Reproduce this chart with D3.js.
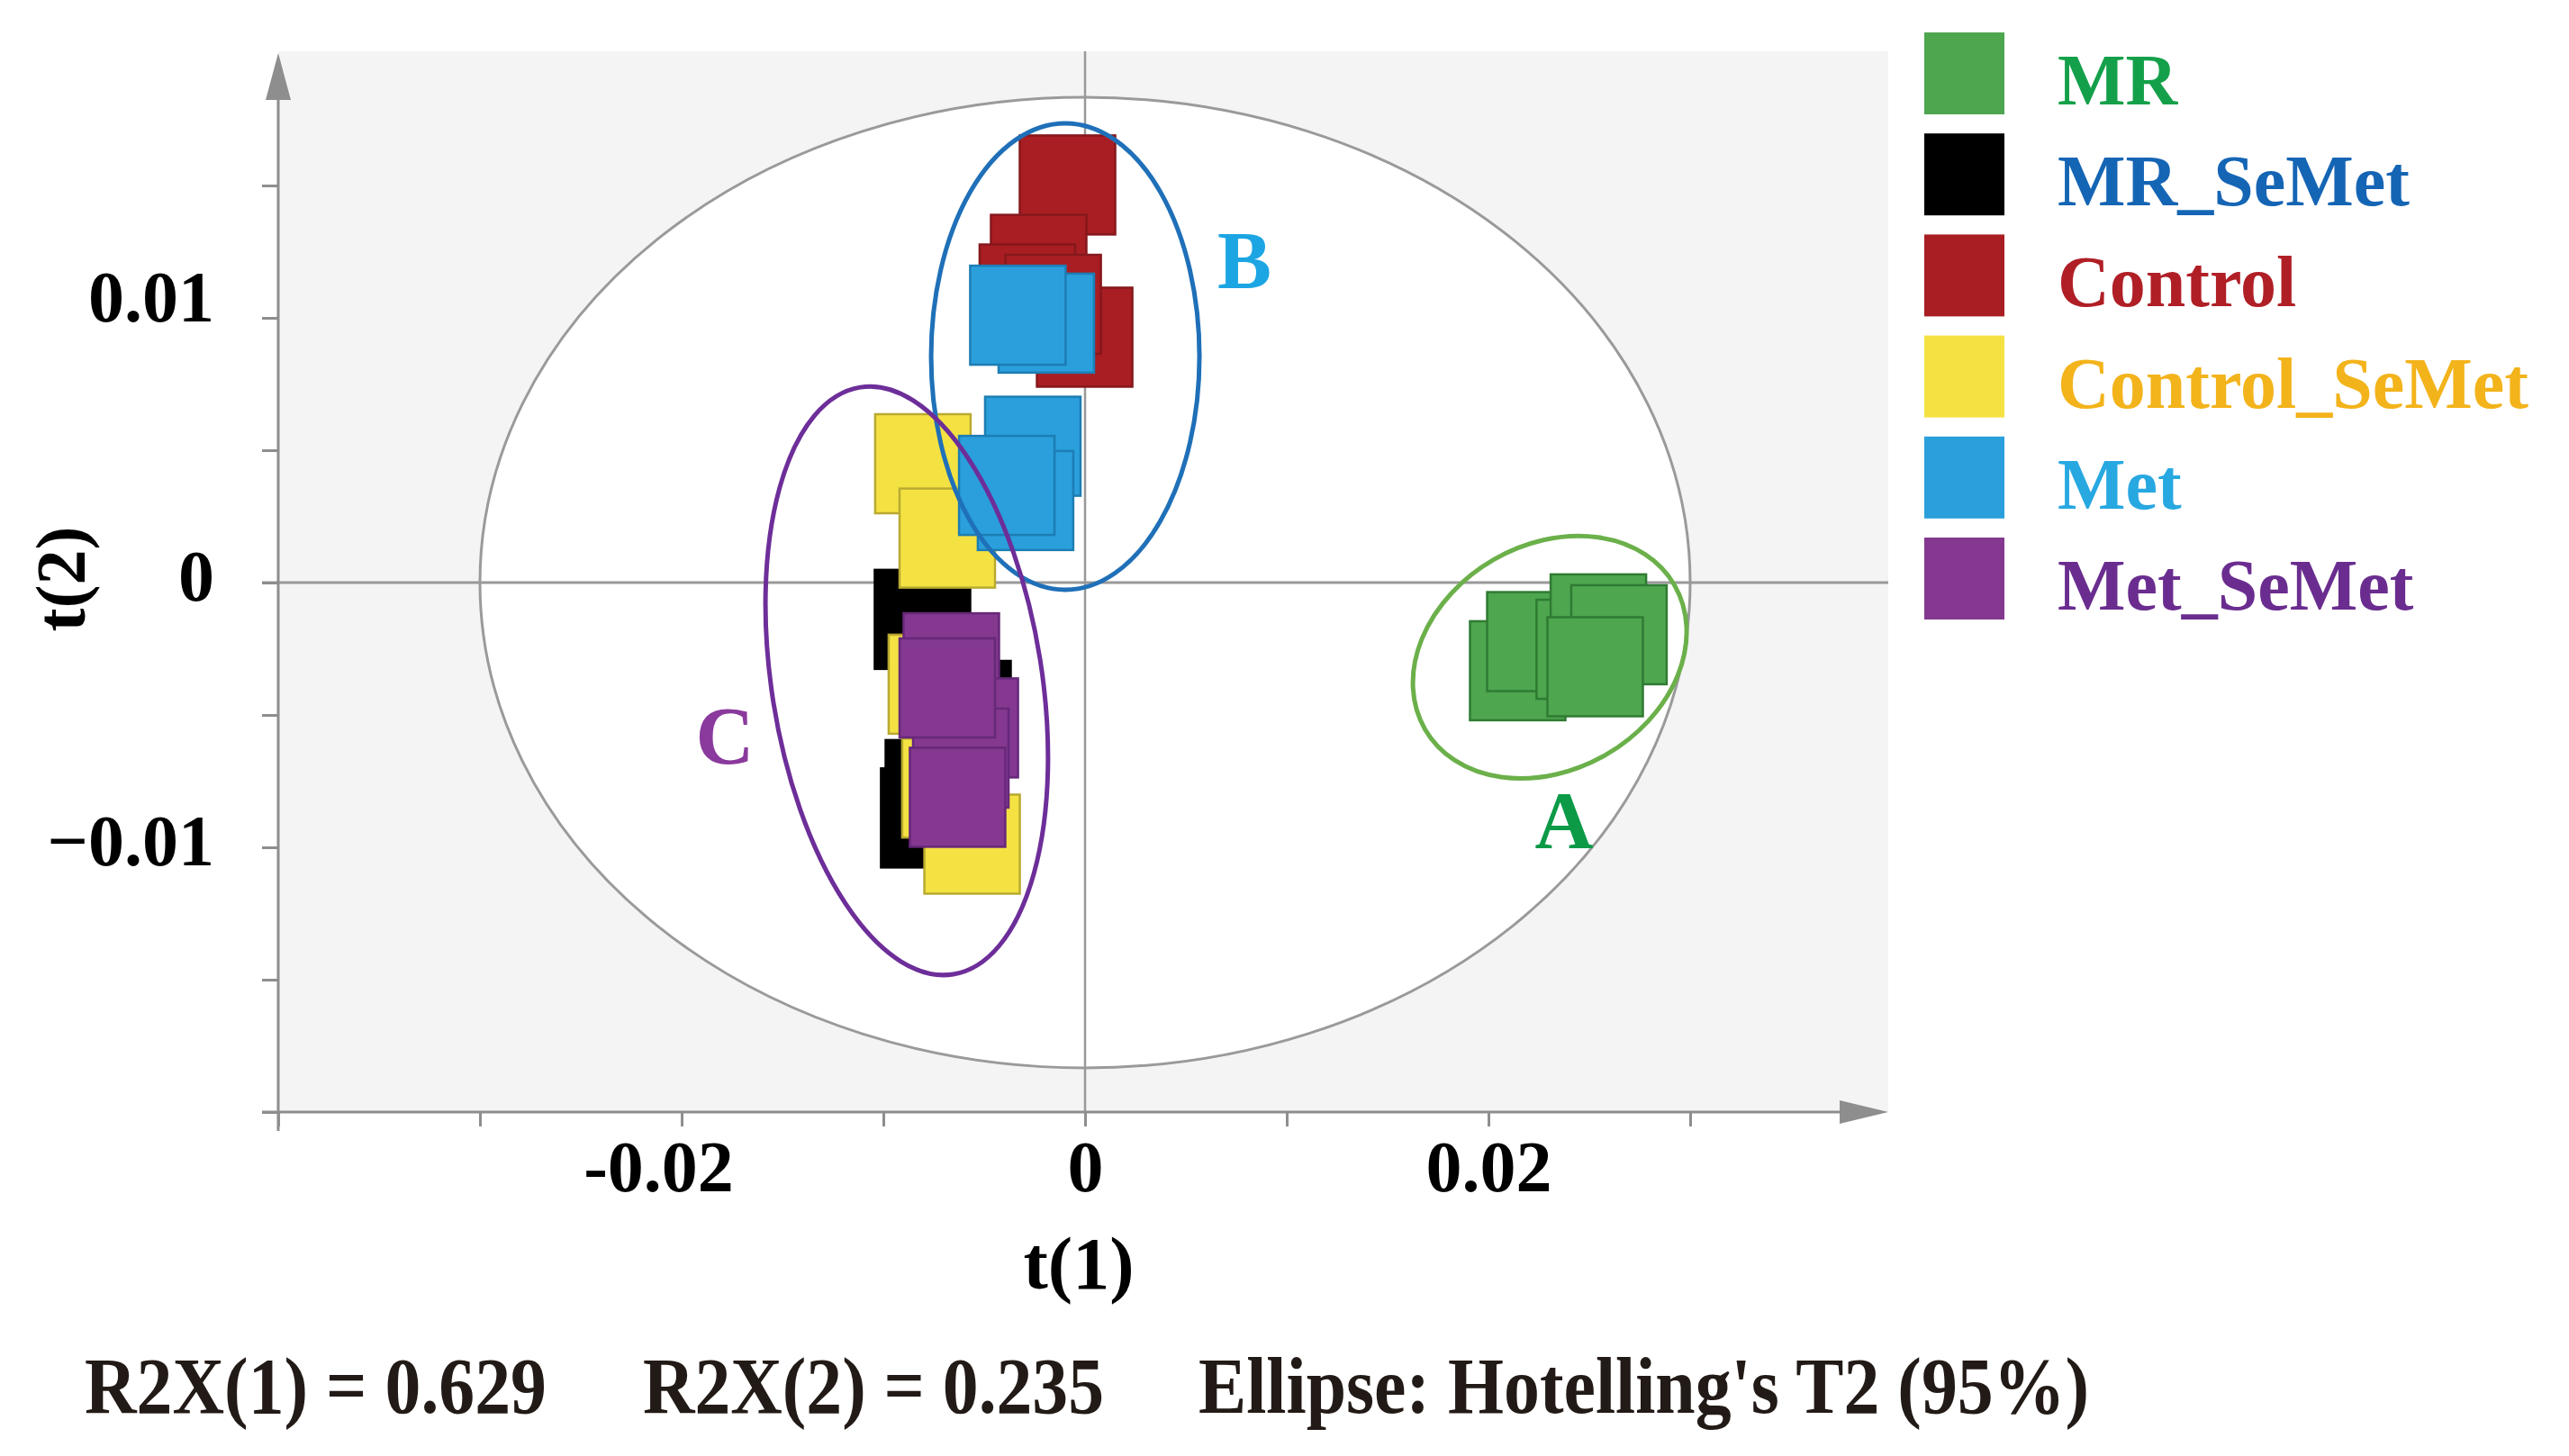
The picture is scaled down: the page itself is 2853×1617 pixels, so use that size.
<!DOCTYPE html>
<html>
<head>
<meta charset="utf-8">
<script src="https://cdn.jsdelivr.net/npm/d3@7"></script>
<style>
  body { margin: 0; background: #fff; }
  text { font-family: "Liberation Serif", "Times New Roman", serif; font-weight: bold; }
</style>
</head>
<body>
<div id="chart"></div>
<script>
// groups in legend order (also drawing order)
const groups = ["MR", "MR_SeMet", "Control", "Control_SeMet", "Met", "Met_SeMet"];

// t(1) / t(2) scores, one pair of arrays per group
const mrT1 = [0.02145, 0.02230, 0.02475, 0.02545, 0.02647, 0.02529];
const mrT2 = [-0.00333, -0.00223, -0.00252, -0.00156, -0.00197, -0.00318];
const mrSeMetT1 = [-0.00806, -0.00605, -0.00752, -0.00775];
const mrSeMetT2 = [-0.00139, -0.00483, -0.00782, -0.00889];
const controlT1 = [-0.00087, -0.00230, -0.00286, -0.00002, -0.00158];
const controlT2 = [0.01502, 0.01202, 0.01090, 0.00927, 0.01051];
const controlSeMetT1 = [-0.00804, -0.00683, -0.00737, -0.00670, -0.00560];
const controlSeMetT2 = [0.00449, 0.00168, -0.00384, -0.00776, -0.00988];
const metT1 = [-0.00192, -0.00333, -0.00259, -0.00295, -0.00388];
const metT2 = [0.00980, 0.01010, 0.00515, 0.00310, 0.00367];
const metSeMetT1 = [-0.00663, -0.00569, -0.00616, -0.00683, -0.00632];
const metSeMetT2 = [-0.00303, -0.00549, -0.00663, -0.00398, -0.00811];

const t1ByGroup = [mrT1, mrSeMetT1, controlT1, controlSeMetT1, metT1, metSeMetT1];
const t2ByGroup = [mrT2, mrSeMetT2, controlT2, controlSeMetT2, metT2, metSeMetT2];

// axis ticks
const xTickValues = [-0.04, -0.03, -0.02, -0.01, 0, 0.01, 0.02, 0.03];
const xLabelValues = [-0.02, 0, 0.02];
const yTickValues = [-0.02, -0.015, -0.01, -0.005, 0, 0.005, 0.01, 0.015];
const yLabelValues = [-0.01, 0, 0.01];

// Hotelling T2 (95%) ellipse semi-axes
const t2EllipseT1 = 0.03;
const t2EllipseT2 = 0.01833;

// cluster annotations
const clusterNames = ["A", "B", "C"];
const clusterCenterT1 = [0.02304, -0.00098, -0.00884];
const clusterCenterT2 = [-0.00282, 0.00854, -0.00371];
const clusterLabelT1 = [0.02375, 0.0079, -0.01786];
const clusterLabelT2 = [-0.01003, 0.01112, -0.00684];

const footer = ["R2X(1) = 0.629", "R2X(2) = 0.235", "Ellipse: Hotelling's T2 (95%)"];

// colours
const fills = ["#4ea64f", "#000000", "#a91e23", "#f4e243", "#2a9fdb", "#843890"];
const strokes = ["#2f7b33", "#000000", "#86181c", "#b9aa30", "#1d7db4", "#67287a"];
const legendTextColors = ["#14a04a", "#1565b5", "#b01f26", "#f3b31b", "#27a8e1", "#6a2d8f"];
const clusterStroke = ["#6bb04a", "#1f70b8", "#6d2e99"];
const clusterText = ["#0c9a47", "#1ca5e3", "#8a3a9c"];

const width = 2853, height = 1617;

const svg = d3.select("#chart").append("svg")
  .attr("width", width)
  .attr("height", height);

const x = d3.scaleLinear().domain([-0.04, 0.04]).range([309, 2101]);
const y = d3.scaleLinear().domain([-0.02, 0.02]).range([1235, 59]);

const axisGrey = "#8e8e8e";

// plot background
svg.append("rect")
  .attr("x", x(-0.04))
  .attr("y", y(0.02) - 2)
  .attr("width", x(0.04) - x(-0.04) - 4)
  .attr("height", y(-0.02) - y(0.02) + 2)
  .attr("fill", "#f4f4f4");

// Hotelling ellipse
svg.append("ellipse")
  .attr("cx", x(0))
  .attr("cy", y(0))
  .attr("rx", x(t2EllipseT1) - x(0))
  .attr("ry", y(0) - y(t2EllipseT2))
  .attr("fill", "#fff")
  .attr("stroke", "#9a9a9a")
  .attr("stroke-width", 3);

// zero lines
svg.append("line")
  .attr("x1", x(-0.04) - 18).attr("x2", x(0.04) - 4)
  .attr("y1", y(0)).attr("y2", y(0))
  .attr("stroke", "#999").attr("stroke-width", 3);
svg.append("line")
  .attr("x1", x(0)).attr("x2", x(0))
  .attr("y1", y(0.02) - 2).attr("y2", y(-0.02))
  .attr("stroke", "#999").attr("stroke-width", 2.5);

// x axis
const gx = svg.append("g")
  .attr("transform", `translate(0,${y(-0.02)})`)
  .call(d3.axisBottom(x)
    .tickValues(xTickValues)
    .tickSize(16)
    .tickFormat(d => xLabelValues.includes(d) ? d3.format("")(d).replace("\u2212", "-") : ""));
gx.select(".domain").remove();
gx.selectAll(".tick line").attr("stroke", axisGrey).attr("stroke-width", 3);
gx.selectAll(".tick text")
  .attr("y", 88).attr("dy", null)
  .attr("dx", d => d < 0 ? -26 : 0)
  .attr("font-size", 80)
  .attr("font-family", "Liberation Serif, serif")
  .attr("font-weight", "bold")
  .attr("fill", "#000");

// y axis
const gy = svg.append("g")
  .attr("transform", `translate(${x(-0.04)},0)`)
  .call(d3.axisLeft(y)
    .tickValues(yTickValues)
    .tickSize(18)
    .tickFormat(d => yLabelValues.includes(d) ? d3.format("")(d) : ""));
gy.select(".domain").remove();
gy.selectAll(".tick line").attr("stroke", axisGrey).attr("stroke-width", 3);
gy.selectAll(".tick text")
  .attr("x", -71).attr("dy", "0.32em")
  .attr("y", d => d > 0 ? -22 : -6)
  .attr("font-size", 80)
  .attr("font-family", "Liberation Serif, serif")
  .attr("font-weight", "bold")
  .attr("fill", "#000");

// axis lines with arrow heads
const xEnd = x(0.04) - 4;
svg.append("line")
  .attr("x1", x(-0.04) - 18).attr("x2", xEnd - 50)
  .attr("y1", y(-0.02)).attr("y2", y(-0.02))
  .attr("stroke", axisGrey).attr("stroke-width", 3);
svg.append("path")
  .attr("d", `M${xEnd},${y(-0.02)} L${xEnd - 54},${y(-0.02) - 13} L${xEnd - 54},${y(-0.02) + 13} Z`)
  .attr("fill", axisGrey);

const yEnd = y(0.02);
svg.append("line")
  .attr("x1", x(-0.04)).attr("x2", x(-0.04))
  .attr("y1", y(-0.02) + 21).attr("y2", yEnd + 48)
  .attr("stroke", axisGrey).attr("stroke-width", 3);
svg.append("path")
  .attr("d", `M${x(-0.04)},${yEnd} L${x(-0.04) - 14},${yEnd + 52} L${x(-0.04) + 14},${yEnd + 52} Z`)
  .attr("fill", axisGrey);

// score points (squares)
const pointW = 106, pointH = 110;
const points = groups.flatMap((g, gi) =>
  t1ByGroup[gi].map((v, i) => ({ group: gi, t1: v, t2: t2ByGroup[gi][i] })));

svg.append("g").selectAll("rect")
  .data(points)
  .join("rect")
  .attr("x", d => x(d.t1) - pointW / 2)
  .attr("y", d => y(d.t2) - pointH / 2)
  .attr("width", pointW)
  .attr("height", pointH)
  .attr("fill", d => fills[d.group])
  .attr("stroke", d => strokes[d.group])
  .attr("stroke-width", 2.5);

// cluster ellipses
const clusterRx = [160, 149, 150];
const clusterRy = [125, 259, 330];
const clusterAngle = [-30, 0, -9];
svg.append("g").selectAll("ellipse")
  .data(clusterNames)
  .join("ellipse")
  .attr("transform", (d, i) =>
    `translate(${x(clusterCenterT1[i])},${y(clusterCenterT2[i])}) rotate(${clusterAngle[i]})`)
  .attr("rx", (d, i) => clusterRx[i])
  .attr("ry", (d, i) => clusterRy[i])
  .attr("fill", "none")
  .attr("stroke", (d, i) => clusterStroke[i])
  .attr("stroke-width", 5);

svg.append("g").selectAll("text")
  .data(clusterNames)
  .join("text")
  .attr("x", (d, i) => x(clusterLabelT1[i]))
  .attr("y", (d, i) => y(clusterLabelT2[i]))
  .attr("text-anchor", "middle")
  .attr("font-size", 90)
  .attr("fill", (d, i) => clusterText[i])
  .text(d => d);

// axis titles
svg.append("text")
  .attr("x", x(0) - 7)
  .attr("y", 1431)
  .attr("text-anchor", "middle")
  .attr("font-size", 82)
  .attr("fill", "#000")
  .text("t(1)");
svg.append("text")
  .attr("transform", `translate(94,${y(0) - 4}) rotate(-90)`)
  .attr("text-anchor", "middle")
  .attr("font-size", 78)
  .attr("fill", "#000")
  .text("t(2)");

// legend
const legend = svg.append("g").selectAll("g")
  .data(groups)
  .join("g")
  .attr("transform", (d, i) => `translate(2137,${36 + i * 112.2})`);
legend.append("rect")
  .attr("width", 89)
  .attr("height", 91)
  .attr("fill", (d, i) => fills[i]);
legend.append("text")
  .attr("x", 148)
  .attr("y", 80)
  .attr("font-size", 80)
  .attr("fill", (d, i) => legendTextColors[i])
  .text(d => d);

// footer
const footerX = [94, 714, 1331];
const footerLen = [513, 512, 989];
svg.append("g").selectAll("text")
  .data(footer)
  .join("text")
  .attr("x", (d, i) => footerX[i])
  .attr("y", 1569)
  .attr("font-size", 88)
  .attr("textLength", (d, i) => footerLen[i])
  .attr("lengthAdjust", "spacingAndGlyphs")
  .attr("fill", "#221a16")
  .text(d => d);
</script>
</body>
</html>
